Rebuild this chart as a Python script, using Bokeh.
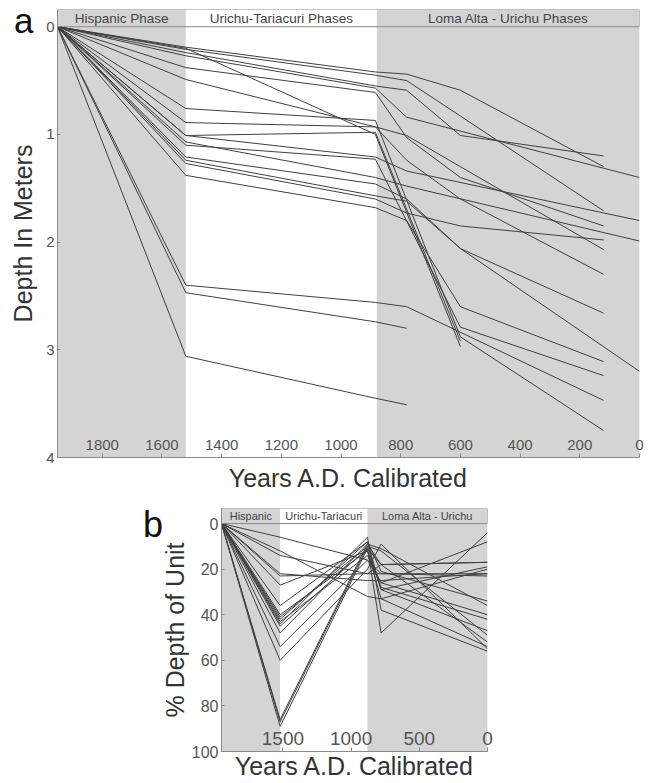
from bokeh.plotting import figure
from bokeh.layouts import column, row
from bokeh.models import Range1d, FixedTicker, Spacer, Div
from bokeh.core.properties import value
from bokeh.embed import file_html
from bokeh.resources import INLINE

FONT = "Liberation Sans"
SHADE = "#d4d4d4"
LINE = "#404040"
AXIS = "#8a8a8a"

# ---- phases ----
phase_start = [1950, 1520, 880]
phase_end = [1520, 880, 0]
phase_fill = [SHADE, "#ffffff", SHADE]
phase_labels_a = ["Hispanic Phase", "Urichu-Tariacuri Phases", "Loma Alta - Urichu Phases"]
phase_labels_b = ["Hispanic", "Urichu-Tariacuri", "Loma Alta - Urichu"]

# ---- panel a: depth (m) of each dated horizon ----
years_a = [1950, 1520, 885, 780, 600, 120, 0]
N = None
core_01 = [0, 0.19, 0.42, 0.44, 0.59, 1.30, N]
core_02 = [0, 0.21, 0.45, 0.50, 0.83, 1.71, N]
core_03 = [0, 0.24, 0.55, 0.59, 1.01, 1.20, N]
core_04 = [0, 0.27, 0.57, 0.84, N, N, 1.40]
core_05 = [0, 0.20, 1.00, N, 2.97, N, N]
core_06 = [0, 0.38, 0.61, 1.03, 1.40, 1.85, N]
core_07 = [0, 0.49, 0.93, 1.01, 1.30, 2.07, N]
core_08 = [0, 0.76, 0.87, N, 2.88, 3.75, N]
core_09 = [0, 0.89, 0.93, 1.24, 1.60, 2.30, N]
core_10 = [0, 1.01, 1.21, 1.34, N, N, 1.80]
core_11 = [0, 1.07, 1.40, 1.48, N, N, 1.99]
core_12 = [0, 1.21, 1.46, 1.60, 2.06, 2.66, N]
core_13 = [0, 1.24, 1.57, 1.62, 2.06, N, 3.20]
core_14 = [0, 1.27, 1.60, 1.73, 1.85, 1.98, N]
core_15 = [0, 1.38, 1.68, 1.80, 2.60, 3.11, N]
core_16 = [0, 1.10, 1.23, N, 2.79, 3.24, N]
core_17 = [0, 1.01, 0.98, N, 2.92, N, N]
core_18 = [0, 2.40, 2.56, 2.60, N, 3.47, N]
core_19 = [0, 2.47, 2.74, 2.80, N, N, N]
core_20 = [0, 3.06, 3.45, 3.51, N, N, N]
cores_a = [core_01, core_02, core_03, core_04, core_05, core_06, core_07,
           core_08, core_09, core_10, core_11, core_12, core_13, core_14,
           core_15, core_16, core_17, core_18, core_19, core_20]

# ---- panel b: % depth of unit ----
years_b = [1950, 1520, 880, 780, 0]
unit_01 = [0, 6, 16, 22, 23]
unit_02 = [0, 12, 32, 33, 20]
unit_03 = [0, 14, 22, 18, 17]
unit_04 = [0, 22, 25, 25, 22]
unit_05 = [0, 23, 22, 22, 22]
unit_06 = [0, 27, 12, 28, 42]
unit_07 = [0, 36, 8, 29, 47]
unit_08 = [0, 40, 12, 33, 54]
unit_09 = [0, 41, 10, 29, 19]
unit_10 = [0, 42, 8, 21, 34]
unit_11 = [0, 43, 14, 26, 40]
unit_12 = [0, 44, 6, 38, 56]
unit_13 = [0, 45, 11, 48, 4]
unit_14 = [0, 48, 9, 18, 52]
unit_15 = [0, 54, 16, 26, 8]
unit_16 = [0, 60, 20, 9, 55]
unit_17 = [0, 86, 9, 11, 36]
unit_18 = [0, 87, 10, 12, 49]
unit_19 = [0, 89, 11, 18, 17]
units_b = [unit_01, unit_02, unit_03, unit_04, unit_05, unit_06, unit_07,
           unit_08, unit_09, unit_10, unit_11, unit_12, unit_13, unit_14,
           unit_15, unit_16, unit_17, unit_18, unit_19]

xticks_a = [1800, 1600, 1400, 1200, 1000, 800, 600, 400, 200, 0]
yticks_a = [0, 1, 2, 3, 4]
xticks_b = [1500, 1000, 500, 0]
yticks_b = [0, 20, 40, 60, 80, 100]


def make_panel(width, height, borders, y_max, y_head, years, series, names,
               xticks, yticks, xtick_size, ytick_size, head_size, ylabel,
               ylabel_size, xlab_standoff, ylab_standoff, xtick_standoff):
    top, right, bottom, left = borders
    p = figure(width=width, height=height, x_range=Range1d(1950, 0),
               y_range=Range1d(y_max, y_head), output_backend="svg",
               toolbar_location=None, min_border_top=top, min_border_right=right,
               min_border_bottom=bottom, min_border_left=left)
    p.outline_line_color = None
    p.grid.visible = False
    p.background_fill_color = "white"
    p.border_fill_color = "white"

    n = len(phase_start)
    # shaded phase bands
    p.quad(left=phase_start, right=phase_end, top=[0] * n, bottom=[y_max] * n,
           fill_color=phase_fill, line_color=None)
    # header band
    p.quad(left=phase_start, right=phase_end, top=[y_head] * n, bottom=[0] * n,
           fill_color=phase_fill, line_color=None)
    p.quad(left=[phase_start[0]], right=[phase_end[-1]], top=[y_head], bottom=[0],
           fill_color=None, line_color=AXIS, line_width=1)
    mids = [(a + b) / 2 for a, b in zip(phase_start, phase_end)]
    p.text(x=mids, y=[y_head / 2] * n, text=names, text_align="center",
           text_baseline="middle", text_font=value(FONT),
           text_font_size=head_size, text_color="#444444")

    xs, ys = [], []
    for s in series:
        pts = [(x, y) for x, y in zip(years, s) if y is not None]
        xs.append([q[0] for q in pts])
        ys.append([q[1] for q in pts])
    p.multi_line(xs, ys, line_color=LINE, line_width=1)

    xa = p.xaxis[0]
    xa.ticker = FixedTicker(ticks=xticks)
    xa.major_tick_in = 4
    xa.major_tick_out = 0
    xa.minor_tick_line_color = None
    xa.axis_line_color = AXIS
    xa.major_tick_line_color = AXIS
    xa.major_label_text_font = FONT
    xa.major_label_text_font_size = xtick_size
    xa.major_label_text_color = "#555555"
    xa.major_label_standoff = xtick_standoff   # negative: labels sit inside the frame
    xa.axis_label = "Years A.D. Calibrated"
    xa.axis_label_text_font = FONT
    xa.axis_label_text_font_size = "25px"
    xa.axis_label_text_font_style = "normal"
    xa.axis_label_text_color = "#333333"
    xa.axis_label_standoff = xlab_standoff

    ya = p.yaxis[0]
    ya.ticker = FixedTicker(ticks=yticks)
    ya.major_tick_in = 3
    ya.major_tick_out = 0
    ya.minor_tick_line_color = None
    ya.axis_line_color = AXIS
    ya.major_tick_line_color = AXIS
    ya.major_label_text_font = FONT
    ya.major_label_text_font_size = ytick_size
    ya.major_label_text_color = "#555555"
    ya.major_label_standoff = 3
    ya.axis_label = ylabel
    ya.axis_label_text_font = FONT
    ya.axis_label_text_font_size = ylabel_size
    ya.axis_label_text_font_style = "normal"
    ya.axis_label_text_color = "#333333"
    ya.axis_label_standoff = ylab_standoff
    return p


p1 = make_panel(652, 500, (9, 13, 43, 57), 4, -0.16, years_a, cores_a,
                phase_labels_a, xticks_a, yticks_a, "15px", "15px", "13.5px",
                "Depth In Meters", "25px", 11, 6, -18)
p2 = make_panel(343, 283, (8, 13, 32, 62), 100, -6.6, years_b, units_b,
                phase_labels_b, xticks_b, yticks_b, "19px", "16px", "11px",
                "% Depth of Unit", "25px", 4, 0, -20)


def letter(txt, left, top, size):
    return Div(text=txt, width=30, height=40,
               styles={"position": "absolute", "left": f"{left}px", "top": f"{top}px",
                       "font-family": FONT, "font-size": f"{size}px",
                       "line-height": f"{size}px", "color": "#111111"})


layout = column(p1, row(Spacer(width=157, height=283), p2, spacing=0),
                letter("a", 9, -2, 35), letter("b", 138, 502, 36), spacing=0)
open("out.html", "w").write(file_html(layout, INLINE))
